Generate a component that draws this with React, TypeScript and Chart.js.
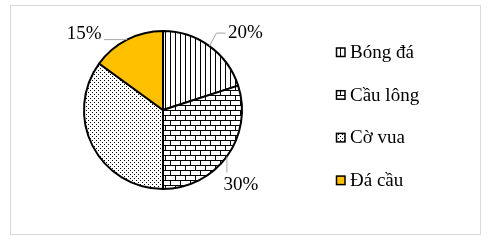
import React, { useEffect, useRef } from "react";
import { Chart, registerables } from "chart.js";

Chart.register(...registerables);

const categories = ["Bóng đá", "Cầu lông", "Cờ vua", "Đá cầu"];
const shares = [20, 30, 35, 15];
const valueLabels = ["20%", "30%", "", "15%"];

const FONT = "19px 'Liberation Serif', 'Times New Roman', serif";

function makePattern(kind: string): CanvasPattern | string {
  if (kind === "solid") return "#FFC000";
  const c = document.createElement("canvas");
  const ctx = c.getContext("2d")!;
  if (kind === "vstripes") {
    c.width = 5; c.height = 5;
    ctx.fillStyle = "#fff"; ctx.fillRect(0, 0, 5, 5);
    ctx.fillStyle = "#000"; ctx.fillRect(0, 0, 1, 5);
  } else if (kind === "brick") {
    c.width = 10; c.height = 10;
    ctx.fillStyle = "#fff"; ctx.fillRect(0, 0, 10, 10);
    ctx.fillStyle = "#000";
    ctx.fillRect(0, 0, 10, 1);
    ctx.fillRect(0, 5, 10, 1);
    ctx.fillRect(0, 0, 1, 5);
    ctx.fillRect(5, 5, 1, 5);
  } else if (kind === "dots") {
    c.width = 4; c.height = 4;
    ctx.fillStyle = "#fff"; ctx.fillRect(0, 0, 4, 4);
    ctx.fillStyle = "#000";
    ctx.fillRect(0, 0, 1, 1);
    ctx.fillRect(2, 2, 1, 1);
  }
  return ctx.createPattern(c, "repeat")!;
}

const fillKinds = ["vstripes", "brick", "dots", "solid"];

// label placement relative to the slice's outer mid point (layout only)
const labelLayout = [
  { dx: 36, dy: -13, leader: [[7, -13], [16, -13]] },
  { dx: 14, dy: 29, leader: [[0, 16]] },
  null,
  { dx: -43, dy: -6, leader: [[-23, 0]] },
];

export default function App() {
  const ref = useRef<HTMLCanvasElement>(null);
  useEffect(() => {
    document.body.style.margin = "0";
    const fills = fillKinds.map(makePattern);
    const overlay = {
      id: "overlay",
      beforeDraw(chart: any) {
        const ctx = chart.ctx;
        ctx.save();
        ctx.fillStyle = "#fff";
        ctx.fillRect(0, 0, chart.width, chart.height);
        ctx.strokeStyle = "#d9d9d9";
        ctx.lineWidth = 1;
        ctx.strokeRect(10.5, 5.5, 470, 229);
        ctx.restore();
      },
      afterDraw(chart: any) {
        const ctx = chart.ctx;
        const meta = chart.getDatasetMeta(0);
        ctx.save();
        meta.data.forEach((arc: any, i: number) => {
          const lay = labelLayout[i];
          if (!lay || !valueLabels[i]) return;
          const mid = (arc.startAngle + arc.endAngle) / 2;
          const ax = arc.x + Math.cos(mid) * arc.outerRadius;
          const ay = arc.y + Math.sin(mid) * arc.outerRadius;
          ctx.strokeStyle = "#a6a6a6";
          ctx.lineWidth = 1;
          ctx.beginPath();
          ctx.moveTo(ax, ay);
          lay.leader.forEach((p) => ctx.lineTo(ax + p[0], ay + p[1]));
          ctx.stroke();
          ctx.fillStyle = "#000";
          ctx.font = FONT;
          ctx.textAlign = "center";
          ctx.textBaseline = "middle";
          ctx.fillText(valueLabels[i], ax + lay.dx, ay + lay.dy);
        });
        // legend
        const lx = 336, ly0 = 52, step = 42.7;
        categories.forEach((name, i) => {
          const y = ly0 + i * step;
          ctx.fillStyle = fills[i] as any;
          ctx.fillRect(lx, y - 4.5, 9, 9);
          ctx.strokeStyle = "#000";
          ctx.lineWidth = 1.5;
          ctx.strokeRect(lx + 0.5, y - 4, 8.5, 8.5);
          ctx.fillStyle = "#000";
          ctx.font = FONT;
          ctx.textAlign = "left";
          ctx.textBaseline = "middle";
          ctx.fillText(name, lx + 14, y + 1);
        });
        ctx.restore();
      },
    };
    const chart = new Chart(ref.current!, {
      type: "pie",
      data: {
        labels: categories,
        datasets: [
          {
            data: shares,
            backgroundColor: fills as any,
            borderColor: "#000",
            borderWidth: 2,
          },
        ],
      },
      options: {
        responsive: false,
        animation: false,
        events: [],
        layout: { padding: { left: 83, right: 258, top: 30, bottom: 50 } },
        plugins: { legend: { display: false }, tooltip: { enabled: false } },
      },
      plugins: [overlay],
    });
    return () => chart.destroy();
  }, []);
  return <canvas ref={ref} width={501} height={240} style={{ display: "block" }} />;
}
